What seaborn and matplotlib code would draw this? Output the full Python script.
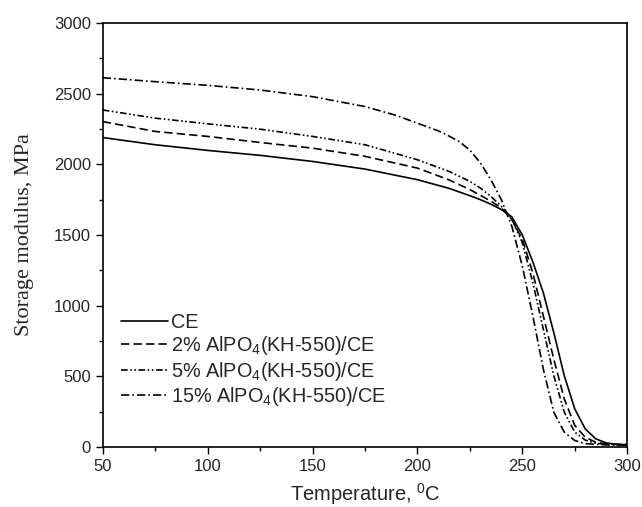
import numpy as np
import pandas as pd
import matplotlib
matplotlib.use("Agg")
import matplotlib.pyplot as plt
import seaborn as sns
from matplotlib.ticker import MultipleLocator

temp_ce = [50, 75, 100, 125, 150, 175, 200, 215, 225, 230, 235, 240, 245, 250, 255, 260, 265, 270, 275, 280, 285, 290, 295, 300]
mod_ce = [2189, 2138, 2098, 2063, 2020, 1966, 1891, 1830, 1778, 1750, 1718, 1680, 1628, 1500, 1310, 1092, 810, 505, 270, 129, 59, 30, 20, 18]

temp_2 = [50, 75, 100, 125, 150, 175, 200, 215, 225, 230, 235, 240, 245, 250, 255, 260, 265, 270, 275, 280, 285, 290, 300]
mod_2 = [2302, 2232, 2197, 2154, 2114, 2056, 1973, 1890, 1821, 1780, 1740, 1691, 1609, 1468, 1233, 928, 622, 341, 153, 70, 35, 23, 18]

temp_5 = [50, 75, 100, 125, 150, 175, 200, 215, 225, 230, 235, 240, 245, 250, 255, 260, 265, 270, 275, 280, 285, 290, 300]
mod_5 = [2384, 2326, 2286, 2248, 2197, 2138, 2032, 1950, 1879, 1832, 1773, 1703, 1615, 1445, 1163, 834, 505, 247, 106, 50, 28, 20, 16]

temp_15 = [50, 75, 100, 125, 150, 175, 190, 200, 210, 215, 220, 225, 230, 235, 240, 245, 250, 255, 260, 265, 270, 275, 280, 290, 300]
mod_15 = [2612, 2584, 2558, 2525, 2478, 2408, 2345, 2290, 2236, 2200, 2160, 2100, 2010, 1891, 1750, 1562, 1280, 928, 552, 247, 106, 47, 25, 16, 14]

labels = ["CE", "2% AlPO$_4$(KH-550)/CE", "5% AlPO$_4$(KH-550)/CE", "15% AlPO$_4$(KH-550)/CE"]

frames = []
for lab, t, m in zip(labels, [temp_ce, temp_2, temp_5, temp_15], [mod_ce, mod_2, mod_5, mod_15]):
    frames.append(pd.DataFrame({"T": t, "E": m, "series": lab}))
df = pd.concat(frames, ignore_index=True)

sns.set_style("ticks")
plt.rcParams['font.family'] = ['Liberation Sans', 'DejaVu Sans']
plt.rcParams['mathtext.fontset'] = 'custom'
plt.rcParams['mathtext.rm'] = 'Liberation Sans'

fig = plt.figure(figsize=(6.42, 5.07), dpi=100)
ax = fig.add_axes([0.160, 0.118, 0.817, 0.837])

dashes = ["", (5, 2.5), (4, 1.5, 1, 1.5, 1, 1.5), (5, 1.8, 1, 1.8)]
sns.lineplot(data=df, x="T", y="E", hue="series", style="series",
             palette=["black"] * 4, dashes=dashes, linewidth=1.2,
             sort=False, estimator=None, ax=ax, legend=True)

ax.set_xlim(50, 300)
ax.set_ylim(0, 3000)
ax.xaxis.set_major_locator(MultipleLocator(50))
ax.xaxis.set_minor_locator(MultipleLocator(25))
ax.yaxis.set_major_locator(MultipleLocator(500))
ax.yaxis.set_minor_locator(MultipleLocator(250))
ax.tick_params(axis="both", which="major", direction="out", length=5, width=1, labelsize=12, color="black")
ax.tick_params(axis="both", which="minor", direction="out", length=3, width=1, color="black")
for s in ax.spines.values():
    s.set_linewidth(1.2)
    s.set_color("black")

ax.set_xlabel("Temperature, $^{0}$C", fontsize=14.5, labelpad=5)
ax.set_ylabel("Storage modulus, MPa", fontsize=16, family=["Liberation Serif"], labelpad=14)

leg = ax.legend(loc="lower left", bbox_to_anchor=(0.0, 0.05), frameon=False,
                fontsize=14.3, handlelength=2.4, handletextpad=0.15, labelspacing=0.12)
for h in leg.get_lines():
    h.set_linewidth(1.2)

fig.savefig("out.png", dpi=100)
